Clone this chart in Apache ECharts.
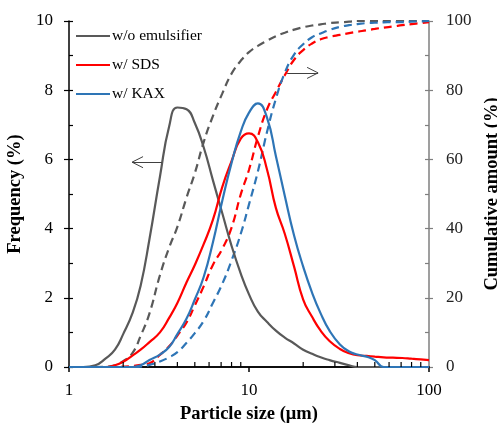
<!DOCTYPE html>
<html>
<head>
<meta charset="utf-8">
<script src="https://cdn.jsdelivr.net/npm/echarts@6/dist/echarts.min.js"></script>
<style>
  html, body { margin: 0; padding: 0; background: #fff; overflow: hidden; }
  #chart { width: 497px; height: 423px; }
</style>
</head>
<body>
<div id="chart"></div>
<script>
// particle size grid (um)
const sizes = [1, 1.2, 1.4, 1.6, 1.8, 2, 2.25, 2.5, 2.8, 3.2, 3.6, 4, 4.5, 5, 5.6, 6.3, 7.1, 8, 9, 10,
  11.2, 12.6, 14.1, 15.8, 17.8, 20, 22.4, 25, 28, 32, 36, 40, 45, 50, 56, 63, 71, 80, 90, 100]

// frequency (%)
const freqNone = [0, 0, 0.05, 0.25, 0.5, 0.95, 1.55, 2.35, 3.7, 5.5, 6.95, 7.5, 7.45, 7.05, 6.35, 5.4, 4.45, 3.5, 2.7, 2.1,
  1.6, 1.3, 1.05, 0.85, 0.68, 0.5, 0.38, 0.28, 0.2, 0.12, 0.05, 0, 0, 0, 0, 0, 0, 0, 0, 0]
const freqSDS = [0, 0, 0, 0, 0.05, 0.15, 0.33, 0.5, 0.72, 1.0, 1.42, 1.85, 2.45, 2.95, 3.55, 4.25, 5.2, 5.95, 6.6, 6.75,
  6.5, 5.7, 4.6, 3.85, 2.9, 1.95, 1.45, 1.05, 0.75, 0.52, 0.4, 0.34, 0.32, 0.3, 0.28, 0.27, 0.26, 0.24, 0.22, 0.2]
const freqKAX = [0, 0, 0, 0, 0, 0, 0, 0.05, 0.2, 0.36, 0.58, 0.95, 1.4, 1.95, 2.6, 3.6, 4.8, 5.9, 6.8, 7.35,
  7.62, 7.2, 6.1, 4.95, 3.8, 2.9, 2.15, 1.55, 1.05, 0.65, 0.45, 0.36, 0.3, 0.2, 0, 0, 0, 0, 0, 0]

// cumulative amount (%)
const cumNone = [0, 0, 0, 0.1, 0.5, 1.7, 4.0, 9.0, 15.5, 26.5, 34.5, 40.5, 49, 56, 65, 72.5, 79, 84.8, 88.5, 91,
  92.8, 94.3, 95.6, 96.6, 97.5, 98.2, 98.7, 99.0, 99.4, 99.6, 99.8, 100, 100, 100, 100, 100, 100, 100, 100, 100]
const cumSDS = [0, 0, 0, 0, 0, 0.1, 0.3, 0.6, 1.1, 3.5, 6.0, 9.1, 12.9, 17.8, 23.3, 29.5, 34.1, 40.3, 49.9, 57,
  66.5, 74.5, 79.5, 84.3, 88.8, 91.6, 93.5, 94.7, 95.4, 96.0, 96.5, 96.9, 97.3, 97.7, 98.1, 98.4, 98.8, 99.1, 99.4, 99.7]
const cumKAX = [0, 0, 0, 0, 0, 0, 0, 0.1, 0.6, 1.6, 2.8, 4.3, 7.0, 9.8, 13.3, 18.5, 24, 30.8, 38.5, 47,
  56.5, 68, 77.5, 85, 90.3, 93.3, 95.3, 96.4, 97.4, 98.3, 98.8, 99.1, 99.4, 99.5, 99.6, 99.7, 99.7, 99.8, 99.9, 100]

const seriesNames = ['w/o emulsifier', 'w/ SDS', 'w/ KAX']
const minorTickValues = [2, 3, 4, 5, 6, 7, 8, 9, 20, 30, 40, 50, 60, 70, 80, 90]

// arrows: [from, to] in data units
const arrowLeft = [[3.28, 5.92], [2.24, 5.92]]
const arrowRight = [[16.3, 85], [24.2, 85]]

const FONT = 'Liberation Serif'
const colors = ['#595959', '#ff0000', '#2e75b6']

const pairs = (ys) => sizes.map((x, i) => [x, ys[i]])

// arrow = shaft + open head
const arrowLines = (a, headDx, headDy) => {
  const tip = a[1]
  const back = tip[0] * headDx
  return [
    [{ coord: a[0] }, { coord: tip }],
    [{ coord: tip }, { coord: [back, tip[1] + headDy] }],
    [{ coord: tip }, { coord: [back, tip[1] - headDy] }]
  ]
}

const solid = (i, data) => ({
  name: seriesNames[i],
  type: 'line',
  data: pairs(data),
  symbol: 'none',
  smooth: 0.5,
  lineStyle: { color: colors[i], width: 2.2 },
  itemStyle: { color: colors[i] },
  z: 3
})

const dashed = (i, data) => ({
  name: seriesNames[i] + ' cum',
  type: 'line',
  yAxisIndex: 1,
  data: pairs(data),
  symbol: 'none',
  smooth: 0.5,
  lineStyle: { color: colors[i], width: 2.2, type: [8, 5] },
  itemStyle: { color: colors[i] },
  z: 2
})

const chart = echarts.init(document.getElementById('chart'))

const arrowStyle = { color: '#404040', width: 1, type: 'solid' }

const s0 = solid(0, freqNone)
s0.markLine = {
  silent: true, symbol: ['none', 'none'], animation: false,
  label: { show: false }, lineStyle: arrowStyle,
  data: arrowLines(arrowLeft, 10 ** (11 / 180), 0.16)
}
const d0 = dashed(0, cumNone)
d0.markLine = {
  silent: true, symbol: ['none', 'none'], animation: false,
  label: { show: false }, lineStyle: arrowStyle,
  data: arrowLines(arrowRight, 10 ** (-11 / 180), 1.6)
}

const tickFont = { fontFamily: FONT, fontSize: 17, color: '#000' }
const titleFont = { fontFamily: FONT, fontSize: 18.5, fontWeight: 'bold', color: '#000' }

const option = {
  animation: false,
  backgroundColor: '#fff',
  grid: { left: 69, right: 68, top: 21, bottom: 56, containLabel: false, outerBoundsMode: 'none' },
  legend: {
    data: seriesNames,
    orient: 'vertical',
    left: 70,
    top: 23,
    itemWidth: 34,
    itemHeight: 14,
    itemGap: 13,
    itemStyle: { opacity: 0 },
    textStyle: { fontFamily: FONT, fontSize: 15.5, color: '#000', padding: [0, 0, 0, -3] }
  },
  xAxis: [
    {
      type: 'log', logBase: 10, min: 1, max: 100, position: 'bottom',
      axisLine: { lineStyle: { color: '#000', width: 1.5 } },
      axisTick: { show: true, inside: false, length: 5, lineStyle: { color: '#000', width: 1.5 } },
      axisLabel: { ...tickFont, margin: 15 },
      splitLine: { show: false },
      name: 'Particle size (μm)', nameLocation: 'middle', nameGap: 38,
      nameTextStyle: titleFont
    },
    {
      type: 'log', logBase: 10, min: 1, max: 100, position: 'top',
      axisLine: { lineStyle: { color: '#000', width: 1.5 } },
      axisTick: { show: false }, axisLabel: { show: false }, splitLine: { show: false }
    }
  ],
  yAxis: [
    {
      type: 'value', min: 0, max: 10, interval: 2, position: 'left',
      axisLine: { show: true, lineStyle: { color: '#000', width: 1.5 } },
      axisTick: { show: true, inside: false, length: 5, lineStyle: { color: '#000', width: 1.2 } },
      axisLabel: { ...tickFont, margin: 16 },
      splitLine: { show: false },
      name: 'Frequency (%)', nameLocation: 'middle', nameGap: 40,
      nameTextStyle: titleFont
    },
    {
      type: 'value', min: 0, max: 100, interval: 20, position: 'right',
      axisLine: { show: true, lineStyle: { color: '#7f7f7f', width: 1.5 } },
      axisTick: { show: true, inside: false, length: 4, lineStyle: { color: '#7f7f7f', width: 1.2 } },
      axisLabel: { ...tickFont, color: '#222', margin: 17 },
      splitLine: { show: false },
      name: 'Cumulative amount (%)', nameLocation: 'middle', nameGap: 50, nameRotate: 90,
      nameTextStyle: titleFont
    },
    {
      type: 'value', min: 0, max: 10, interval: 2, position: 'left',
      axisLine: { show: false },
      axisTick: { show: true, inside: true, length: 4, lineStyle: { color: '#000', width: 1.2 } },
      minorTick: { show: true, splitNumber: 2, length: 4, lineStyle: { color: '#000', width: 1.2 } },
      axisLabel: { show: false }, splitLine: { show: false }
    },
    {
      type: 'value', min: 0, max: 100, interval: 20, position: 'right',
      axisLine: { show: false },
      axisTick: { show: true, inside: true, length: 4, lineStyle: { color: '#7f7f7f', width: 1.2 } },
      minorTick: { show: true, splitNumber: 2, length: 4, lineStyle: { color: '#7f7f7f', width: 1.2 } },
      axisLabel: { show: false }, splitLine: { show: false }
    }
  ],
  series: [
    d0,
    dashed(1, cumSDS),
    dashed(2, cumKAX),
    s0,
    solid(1, freqSDS),
    solid(2, freqKAX),
    {
      // log minor ticks on the x axis, pointing inward
      type: 'custom',
      silent: true,
      clip: false,
      data: minorTickValues.map(v => [v]),
      encode: { x: 0 },
      renderItem: (params, api) => {
        const p = api.coord([api.value(0), 0])
        return {
          type: 'line',
          shape: { x1: p[0], y1: p[1], x2: p[0], y2: p[1] - 5 },
          style: { stroke: '#000', lineWidth: 1.2 }
        }
      },
      z: 5
    }
  ]
}

chart.setOption(option)
</script>
</body>
</html>
